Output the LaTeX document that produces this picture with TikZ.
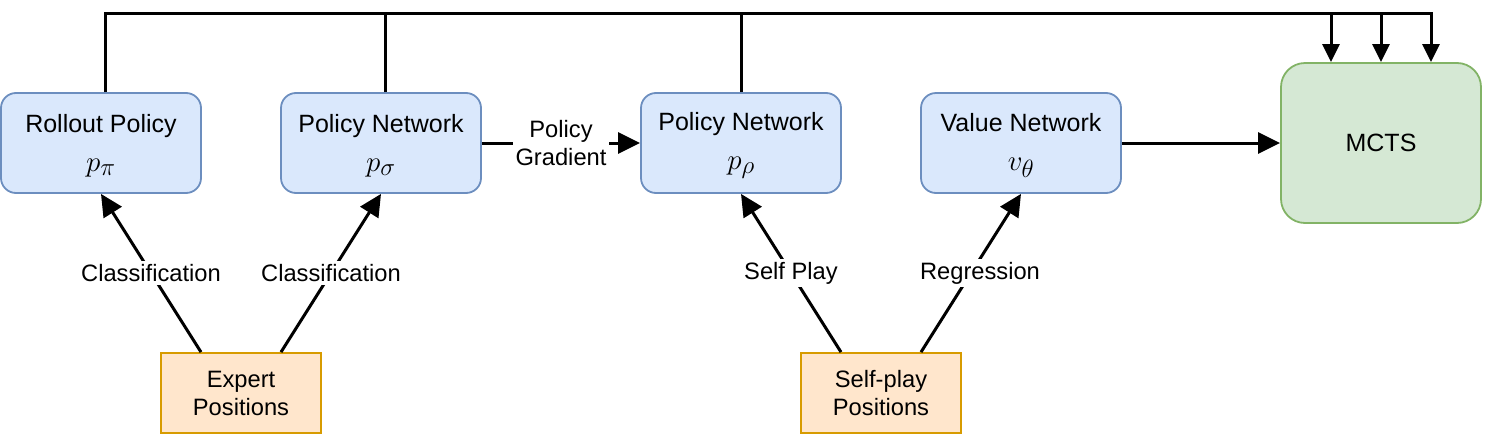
\RequirePackage{fix-cm}
\documentclass[tikz,border=0pt]{standalone}
\usepackage{fontspec}
\setmainfont{Liberation Sans}
\usetikzlibrary{arrows.meta}
\DeclareMathSizes{29}{29}{25}{20}
\definecolor{bfill}{HTML}{DAE8FC}
\definecolor{bdraw}{HTML}{6C8EBF}
\definecolor{gfill}{HTML}{D5E8D4}
\definecolor{gdraw}{HTML}{82B366}
\definecolor{ofill}{HTML}{FFE6CC}
\definecolor{odraw}{HTML}{D79B00}
\newcommand{\bigmath}[1]{{\fontsize{29}{38}\selectfont$#1$}}
\newcommand{\topstrut}{\rule{0pt}{23pt}}
\tikzset{
  bluebox/.style={draw=bdraw, fill=bfill, line width=1.8pt, rounded corners=15pt,
    minimum width=200pt, minimum height=100pt, inner sep=0pt, align=center,
    font=\fontsize{25}{38}\selectfont},
  greenbox/.style={draw=gdraw, fill=gfill, line width=1.8pt, rounded corners=24pt,
    minimum width=200pt, minimum height=160pt, inner sep=0pt, align=center,
    font=\fontsize{25}{30}\selectfont},
  orangebox/.style={draw=odraw, fill=ofill, line width=1.8pt,
    minimum width=160pt, minimum height=80pt, inner sep=0pt, align=center,
    font=\fontsize{23.7}{28}\selectfont},
  wire/.style={line width=3pt, draw=black},
  bigtip/.tip={Triangle[length=22pt, width=21pt]},
  smalltip/.tip={Triangle[length=18pt, width=17pt]},
  lbl/.style={fill=white, inner sep=3pt, align=center,
    font=\fontsize{23.7}{28}\selectfont}
}
\begin{document}
\begin{tikzpicture}[x=1pt, y=-1pt]
\useasboundingbox (0,0) rectangle (1504,434);

\node[bluebox] (rp) at (101,143) {\topstrut Rollout Policy\\[1pt]\bigmath{p_\pi}};
\node[bluebox] (pns) at (381,143) {\topstrut Policy Network\\[1pt]\bigmath{p_\sigma}};
\node[bluebox] (pnr) at (741,143) {\topstrut Policy Network\\[1pt]\bigmath{p_\rho}};
\node[bluebox] (vn) at (1021,143) {\topstrut Value Network\\[1pt]\bigmath{v_\theta}};
\node[greenbox] (mcts) at (1381,143) {MCTS};
\node[orangebox] (ep) at (241,393) {Expert\\Positions};
\node[orangebox] (sp) at (881,393) {Self-play\\Positions};

\coordinate (top) at (0,13);

% top bus
\draw[wire, -{smalltip}] ([xshift=4pt]rp.north) |- ([xshift=50pt]mcts.north |- top) -- ([xshift=50pt]mcts.north);
\draw[wire] ([xshift=4pt]pns.north) -- ([xshift=4pt]pns.north |- top);
\draw[wire] (pnr.north) -- (pnr.north |- top);
\draw[wire, -{smalltip}] ([xshift=-50pt]mcts.north |- top) -- ([xshift=-50pt]mcts.north);
\draw[wire, -{smalltip}] (mcts.north |- top) -- (mcts.north);

% horizontal arrows
\draw[wire, -{bigtip}] (pns.east) -- (pnr.west) node[midway, lbl] {Policy\\Gradient};
\draw[wire, -{bigtip}] (vn.east) -- (mcts.west);

% diagonal arrows
\draw[wire, -{bigtip}] ([xshift=-40pt]ep.north) -- (rp.south) node[midway, lbl] {Classification};
\draw[wire, -{bigtip}] ([xshift=40pt]ep.north) -- (pns.south) node[midway, lbl] {Classification};
\draw[wire, -{bigtip}] ([xshift=-40pt]sp.north) -- (pnr.south) node[midway, lbl] {Self Play};
\draw[wire, -{bigtip}] ([xshift=40pt]sp.north) -- (vn.south) node[midway, lbl, xshift=9pt] {Regression};
\end{tikzpicture}
\end{document}
